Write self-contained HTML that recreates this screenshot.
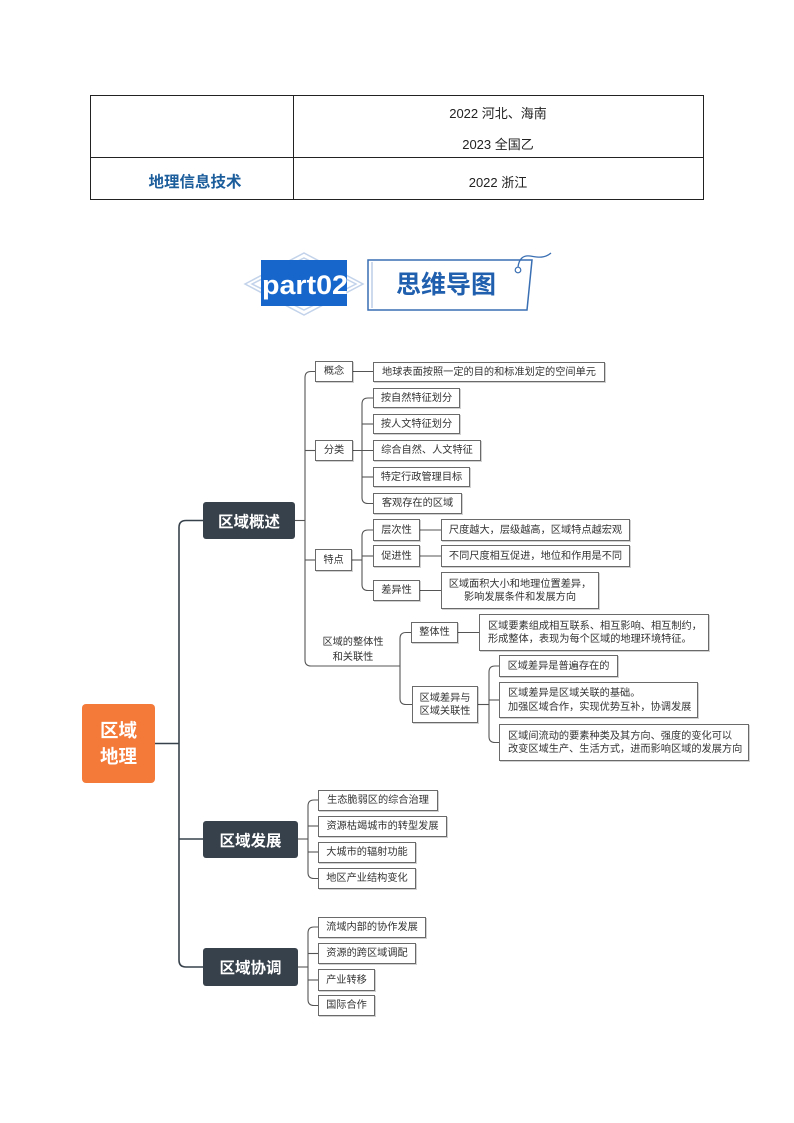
<!DOCTYPE html>
<html><head><meta charset="utf-8">
<style>
html,body{margin:0;padding:0;background:#fff;}
body{width:794px;height:1123px;position:relative;overflow:hidden;font-family:"Liberation Sans","Noto Sans CJK SC",sans-serif;}
.b{position:absolute;box-sizing:border-box;border:1px solid #6a6a6a;box-shadow:1px 1px 0 rgba(0,0,0,0.18);background:#fff;display:flex;align-items:center;justify-content:center;font-size:10.2px;line-height:13.5px;color:#333;white-space:nowrap;text-align:center;padding-top:1px;}
.l{justify-content:flex-start;text-align:left;padding-left:8px;}
.m{position:absolute;box-sizing:border-box;background:#37414b;border-radius:3px;color:#fff;font-weight:bold;font-size:15.5px;display:flex;align-items:center;justify-content:center;white-space:nowrap;}
.t{position:absolute;font-size:13px;color:#222;white-space:nowrap;transform:translateX(-50%);}
svg{position:absolute;left:0;top:0;}
</style></head><body>

<!-- table -->
<div style="position:absolute;left:90px;top:95px;width:614px;height:105px;box-sizing:border-box;border:1px solid #222;"></div>
<div style="position:absolute;left:90px;top:157px;width:614px;height:1px;background:#222;"></div>
<div style="position:absolute;left:293px;top:95px;width:1px;height:105px;background:#222;"></div>
<div class="t" style="left:498px;top:103px;">2022 河北、海南</div>
<div class="t" style="left:498px;top:134px;">2023 全国乙</div>
<div class="t" style="left:498px;top:172px;">2022 浙江</div>
<div class="t" style="left:195px;top:170px;font-size:15.5px;font-weight:bold;color:#1c5d9c;">地理信息技术</div>

<svg width="794" height="1123" viewBox="0 0 794 1123">
  <!-- header -->
  <g fill="none" stroke="#c3d3ea" stroke-width="1.5">
    <polygon points="245,284 304,253 363,284 304,315"/>
    <polygon points="252,284 304,258 356,284 304,310"/>
  </g>
  <rect x="261" y="260" width="86" height="46" fill="#1766cc"/>
  <text x="262" y="294" font-family="Liberation Sans, sans-serif" font-weight="bold" font-size="27" fill="#fff" textLength="86" lengthAdjust="spacingAndGlyphs">part02</text>
  <polygon points="368,260 532,260 527,310 368,310" fill="#fff" stroke="#3a6fb3" stroke-width="1.5"/>
  <line x1="372" y1="262" x2="372" y2="308" stroke="#9bb6dc" stroke-width="1"/>
  <text x="446" y="293" text-anchor="middle" font-family="Liberation Sans, Noto Sans CJK SC, sans-serif" font-weight="bold" font-size="25" fill="#1f5fae">思维导图</text>
  <circle cx="518" cy="270" r="2.8" fill="#fff" stroke="#3a6fb3" stroke-width="1.2"/>
  <path d="M518,267 C519,259 523,255 530,256 S544,259 551,253" fill="none" stroke="#3a6fb3" stroke-width="1.3"/>

  <!-- main trunk -->
  <g fill="none" stroke="#37414b" stroke-width="1.6">
    <path d="M203,520.5 H186 Q179,520.5 179,527.5 V960 Q179,967 186,967 H203"/>
    <path d="M179,839 H203"/>
    <path d="M155,743.5 H179"/>
  </g>
  <g fill="none" stroke="#555" stroke-width="1.1">
    <path d="M295,520.5 H305"/>
    <path d="M315,371.5 H311 Q305,371.5 305,377.5 V660 Q305,666 311,666 H400"/>
    <path d="M305,450.5 H315"/>
    <path d="M305,560 H315"/>
    <path d="M353,371.5 H373"/>
    <path d="M373,398 H368 Q362,398 362,404 V497.5 Q362,503.5 368,503.5 H373"/>
    <path d="M353,450.5 H373"/>
    <path d="M362,424 H373"/>
    <path d="M362,477 H373"/>
    <path d="M352,560 H362"/>
    <path d="M373,530 H368 Q362,530 362,536 V584.5 Q362,590.5 368,590.5 H373"/>
    <path d="M362,556 H373"/>
    <path d="M420,530 H441"/>
    <path d="M420,556 H441"/>
    <path d="M420,590.5 H441"/>
    <path d="M411,632.5 H406 Q400,632.5 400,638.5 V698.5 Q400,704.5 406,704.5 H412"/>
    <path d="M458,632.5 H479"/>
    <path d="M478,704.5 H489"/>
    <path d="M499,666 H495 Q489,666 489,672 V736.5 Q489,742.5 495,742.5 H499"/>
    <path d="M489,700 H499"/>
    <path d="M298,839 H308"/>
    <path d="M318,800 H314 Q308,800 308,806 V872.5 Q308,878.5 314,878.5 H318"/>
    <path d="M308,826 H318"/>
    <path d="M308,852 H318"/>
    <path d="M298,967 H308"/>
    <path d="M318,927 H314 Q308,927 308,933 V999.5 Q308,1005.5 314,1005.5 H318"/>
    <path d="M308,953.5 H318"/>
    <path d="M308,980 H318"/>
  </g>
</svg>

<!-- root -->
<div style="position:absolute;left:82px;top:704px;width:73px;height:79px;background:#f47a3a;border-radius:4px;color:#fff;font-weight:bold;font-size:18.5px;line-height:26px;display:flex;align-items:center;justify-content:center;text-align:center;">区域<br>地理</div>

<!-- main nodes -->
<div class="m" style="left:203px;top:502px;width:92px;height:37px;">区域概述</div>
<div class="m" style="left:203px;top:821px;width:95px;height:37px;">区域发展</div>
<div class="m" style="left:203px;top:948px;width:95px;height:38px;">区域协调</div>

<!-- 区域概述 children -->
<div class="b" style="left:315px;top:361px;width:38px;height:21px;">概念</div>
<div class="b" style="left:373px;top:362px;width:232px;height:20px;">地球表面按照一定的目的和标准划定的空间单元</div>
<div class="b" style="left:315px;top:440px;width:38px;height:21px;">分类</div>
<div class="b" style="left:373px;top:388px;width:87px;height:20px;">按自然特征划分</div>
<div class="b" style="left:373px;top:414px;width:87px;height:20px;">按人文特征划分</div>
<div class="b" style="left:373px;top:440px;width:108px;height:21px;">综合自然、人文特征</div>
<div class="b" style="left:373px;top:467px;width:97px;height:20px;">特定行政管理目标</div>
<div class="b" style="left:373px;top:493px;width:89px;height:21px;">客观存在的区域</div>
<div class="b" style="left:315px;top:549px;width:37px;height:22px;">特点</div>
<div class="b" style="left:373px;top:519px;width:47px;height:22px;">层次性</div>
<div class="b" style="left:373px;top:545px;width:47px;height:22px;">促进性</div>
<div class="b" style="left:373px;top:580px;width:47px;height:21px;">差异性</div>
<div class="b" style="left:441px;top:519px;width:189px;height:22px;">尺度越大，层级越高，区域特点越宏观</div>
<div class="b" style="left:441px;top:545px;width:189px;height:22px;">不同尺度相互促进，地位和作用是不同</div>
<div class="b" style="left:441px;top:572px;width:158px;height:37px;">区域面积大小和地理位置差异，<br>影响发展条件和发展方向</div>

<div style="position:absolute;left:303px;top:635px;width:100px;text-align:center;font-size:10.2px;line-height:15px;color:#333;">区域的整体性<br>和关联性</div>

<div class="b" style="left:411px;top:622px;width:47px;height:21px;">整体性</div>
<div class="b l" style="left:479px;top:614px;width:230px;height:37px;">区域要素组成相互联系、相互影响、相互制约，<br>形成整体，表现为每个区域的地理环境特征。</div>
<div class="b" style="left:412px;top:686px;width:66px;height:37px;">区域差异与<br>区域关联性</div>
<div class="b" style="left:499px;top:655px;width:119px;height:22px;">区域差异是普遍存在的</div>
<div class="b l" style="left:499px;top:682px;width:199px;height:36px;">区域差异是区域关联的基础。<br>加强区域合作，实现优势互补，协调发展</div>
<div class="b l" style="left:499px;top:724px;width:250px;height:37px;">区域间流动的要素种类及其方向、强度的变化可以<br>改变区域生产、生活方式，进而影响区域的发展方向</div>

<!-- 区域发展 children -->
<div class="b" style="left:318px;top:790px;width:120px;height:21px;">生态脆弱区的综合治理</div>
<div class="b" style="left:318px;top:816px;width:129px;height:21px;">资源枯竭城市的转型发展</div>
<div class="b" style="left:318px;top:842px;width:98px;height:21px;">大城市的辐射功能</div>
<div class="b" style="left:318px;top:868px;width:98px;height:21px;">地区产业结构变化</div>

<!-- 区域协调 children -->
<div class="b" style="left:318px;top:917px;width:108px;height:21px;">流域内部的协作发展</div>
<div class="b" style="left:318px;top:943px;width:98px;height:21px;">资源的跨区域调配</div>
<div class="b" style="left:318px;top:969px;width:57px;height:22px;">产业转移</div>
<div class="b" style="left:318px;top:995px;width:57px;height:21px;">国际合作</div>

</body></html>
